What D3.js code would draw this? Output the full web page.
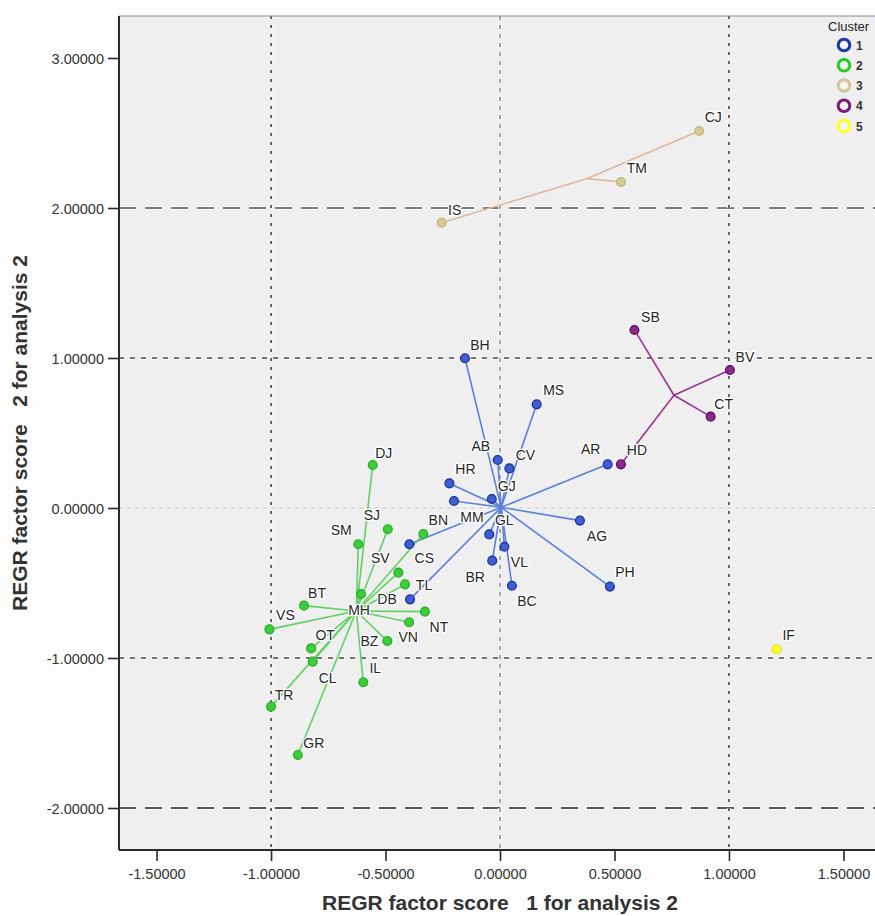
<!DOCTYPE html>
<html>
<head>
<meta charset="utf-8">
<script src="https://cdn.jsdelivr.net/npm/d3@7"></script>
<style>
  html, body { margin: 0; padding: 0; background: #fdfdfd; }
  svg { display: block; font-family: Arial, "Liberation Sans", sans-serif; }
</style>
</head>
<body>
<svg id="chart" width="875" height="916"></svg>
<script>
// Case labels, factor scores and cluster membership
const names = ["BH","MS","AB","CV","HR","GJ","MM","GL","AR","AG","VL","BR","BC","PH","CS","TL",
               "DJ","SJ","SM","BN","SV","DB","MH","BT","VS","NT","VN","BZ","OT","CL","IL","TR","GR",
               "IS","TM","CJ",
               "SB","BV","CT","HD",
               "IF"];
const score1 = [-0.153, 0.160,-0.010, 0.041,-0.221,-0.036,-0.201,-0.047, 0.470, 0.349, 0.019,-0.034, 0.052, 0.480,-0.396,-0.393,
                -0.556,-0.490,-0.619,-0.335,-0.444,-0.415,-0.607,-0.856,-1.007,-0.328,-0.397,-0.492,-0.825,-0.818,-0.597,-1.000,-0.883,
                -0.255, 0.528, 0.870,
                 0.587, 1.004, 0.920, 0.528,
                 1.208];
const score2 = [ 0.998, 0.691, 0.320, 0.264, 0.164, 0.060, 0.047,-0.176, 0.291,-0.084,-0.258,-0.351,-0.518,-0.524,-0.242,-0.609,
                 0.287,-0.142,-0.242,-0.173,-0.431,-0.509,-0.573,-0.651,-0.809,-0.691,-0.762,-0.887,-0.936,-1.024,-1.162,-1.324,-1.647,
                 1.902, 2.173, 2.513,
                 1.187, 0.920, 0.609, 0.291,
                -0.942];
const cluster = [1,1,1,1,1,1,1,1,1,1,1,1,1,1,1,1,
                 2,2,2,2,2,2,2,2,2,2,2,2,2,2,2,2,2,
                 3,3,3,
                 4,4,4,4,
                 5];

const clusterIds = [1, 2, 3, 4, 5];
const xTicks = [-1.5, -1.0, -0.5, 0.0, 0.5, 1.0, 1.5];
const yTicks = [-2, -1, 0, 1, 2, 3];
const xTitle = "REGR factor score   1 for analysis 2";
const yTitle = "REGR factor score   2 for analysis 2";

// Appearance per cluster
const pointFill   = {1: "#3d5fd4", 2: "#3ccc3c", 3: "#d4ca94", 4: "#8c2a8c", 5: "#ffff33"};
const pointStroke = {1: "#1c3098", 2: "#26b026", 3: "#c2b47a", 4: "#5e0e5e", 5: "#e6e600"};
const starColor   = {1: "#5b7fdc", 2: "#62d062", 3: "#e0b89c", 4: "#9a3496", 5: "#eeee55"};
const legendColor = {1: "#1a3aa8", 2: "#22cc22", 3: "#d2c694", 4: "#7c1a7c", 5: "#ffff22"};

// Label placement relative to each marker (px)
const labelNudge = {
  BH:[15,-13], MS:[17,-14], AB:[-17,-14], CV:[16,-13], HR:[16,-14], GJ:[15,-13], MM:[18,16],
  GL:[15,-14], AR:[-17,-15], AG:[17,15], VL:[15,15], BR:[-17,16], BC:[15,15], PH:[15,-15],
  CS:[15,14], TL:[14,-14],
  DJ:[11,-12], SJ:[-16,-14], SM:[-17,-14], BN:[15,-14], SV:[-18,-15], DB:[-18,15], MH:[-2,16],
  BT:[13,-13], VS:[16,-14], NT:[14,15], VN:[-1,15], BZ:[-18,0], OT:[14,-13], CL:[15,16],
  IL:[12,-14], TR:[13,-12], GR:[16,-12],
  IS:[13,-13], TM:[16,-14], CJ:[14,-14],
  SB:[16,-13], BV:[15,-13], CT:[13,-13], HD:[16,-14],
  IF:[12,-14]
};

const rows = names.map((n, i) => ({name: n, x: score1[i], y: score2[i], c: cluster[i]}));

const svg = d3.select("#chart");
const plot = {left: 119, right: 876, top: 16, bottom: 850};

const x = d3.scaleLinear().domain([-1.664, 1.642]).range([plot.left, plot.right]);
const y = d3.scaleLinear().domain([-2.28, 3.28]).range([plot.bottom, plot.top]);

// plot background
svg.append("rect")
  .attr("x", plot.left).attr("y", plot.top)
  .attr("width", plot.right - plot.left).attr("height", plot.bottom - plot.top)
  .attr("fill", "#efefef");

// reference lines (white halo beneath each dashed line)
const refLines = [
  {axis: "y", v: 0,  color: "#b4b4b4", dash: "4,4",  w: 1.2},
  {axis: "y", v: 1,  color: "#444",    dash: "5,6",  w: 1.3},
  {axis: "y", v: -1, color: "#444",    dash: "5,6",  w: 1.3},
  {axis: "y", v: 2,  color: "#7a7a7a", dash: "17,9", w: 2},
  {axis: "y", v: -2, color: "#555",    dash: "17,9", w: 2},
  {axis: "x", v: 0,  color: "#777",    dash: "4,5",  w: 1.3},
  {axis: "x", v: -1, color: "#333",    dash: "3,6",  w: 1.5},
  {axis: "x", v: 1,  color: "#333",    dash: "3,6",  w: 1.5}
];
const refG = svg.append("g");
refLines.forEach(r => {
  const coords = r.axis === "y"
    ? {x1: plot.left, x2: plot.right, y1: y(r.v), y2: y(r.v)}
    : {x1: x(r.v), x2: x(r.v), y1: plot.top, y2: plot.bottom};
  ["halo", "line"].forEach(k => {
    refG.append("line")
      .attr("x1", coords.x1).attr("x2", coords.x2)
      .attr("y1", coords.y1).attr("y2", coords.y2)
      .attr("stroke", k === "halo" ? "#ffffff" : r.color)
      .attr("stroke-width", k === "halo" ? r.w + 2.2 : r.w)
      .attr("stroke-dasharray", r.dash);
  });
});

// cluster centres and star lines
const centres = d3.rollup(rows, v => ({x: d3.mean(v, d => d.x), y: d3.mean(v, d => d.y)}), d => d.c);
const sizes = d3.rollup(rows, v => v.length, d => d.c);
svg.append("g").selectAll("line")
  .data(rows.filter(d => sizes.get(d.c) > 1))
  .join("line")
  .attr("x1", d => x(centres.get(d.c).x)).attr("y1", d => y(centres.get(d.c).y))
  .attr("x2", d => x(d.x)).attr("y2", d => y(d.y))
  .attr("stroke", d => starColor[d.c])
  .attr("stroke-width", 1.6);

// markers
svg.append("g").selectAll("circle")
  .data(rows)
  .join("circle")
  .attr("cx", d => x(d.x)).attr("cy", d => y(d.y))
  .attr("r", 4.4)
  .attr("fill", d => pointFill[d.c])
  .attr("stroke", d => pointStroke[d.c])
  .attr("stroke-width", 1.3);

// case labels
svg.append("g").selectAll("text")
  .data(rows)
  .join("text")
  .attr("x", d => x(d.x) + labelNudge[d.name][0])
  .attr("y", d => y(d.y) + labelNudge[d.name][1])
  .attr("text-anchor", "middle")
  .attr("dominant-baseline", "central")
  .attr("font-size", 14)
  .attr("fill", "#262626")
  .attr("stroke", "#ffffff")
  .attr("stroke-width", 2.6)
  .attr("stroke-linejoin", "round")
  .attr("paint-order", "stroke")
  .text(d => d.name);

// frame
svg.append("line").attr("x1", plot.left).attr("x2", plot.right).attr("y1", plot.top).attr("y2", plot.top)
  .attr("stroke", "#8a8a8a").attr("stroke-width", 1.2);

const fmt = d => d.toFixed(5);

const xAxis = svg.append("g")
  .attr("transform", `translate(0,${plot.bottom})`)
  .call(d3.axisBottom(x).tickValues(xTicks).tickFormat(fmt).tickSize(11).tickSizeOuter(0));
const yAxis = svg.append("g")
  .attr("transform", `translate(${plot.left},0)`)
  .call(d3.axisLeft(y).tickValues(yTicks).tickFormat(fmt).tickSize(11).tickSizeOuter(0));

[xAxis, yAxis].forEach(a => {
  a.select(".domain").attr("stroke", "#2a2a2a").attr("stroke-width", 2);
  a.selectAll(".tick line").attr("stroke", "#2a2a2a").attr("stroke-width", 1.6);
  a.selectAll(".tick text").attr("font-size", 14.5).attr("fill", "#333")
    .attr("font-family", "Arial, 'Liberation Sans', sans-serif");
});
xAxis.selectAll(".tick text").attr("dy", "1.0em");
yAxis.selectAll(".tick text").attr("x", -15).attr("dy", "0.35em");
yAxis.select(".domain").attr("d", `M0,${plot.top}V${plot.bottom}`);
xAxis.select(".domain").attr("d", `M${plot.left},0H${plot.right}`);

// axis titles
svg.append("text")
  .attr("x", 500).attr("y", 910)
  .attr("text-anchor", "middle")
  .attr("font-size", 21).attr("font-weight", "bold").attr("fill", "#333")
  .style("white-space", "pre")
  .text(xTitle);
svg.append("text")
  .attr("transform", `translate(27,${(plot.top + plot.bottom) / 2}) rotate(-90)`)
  .attr("text-anchor", "middle")
  .attr("font-size", 21).attr("font-weight", "bold").attr("fill", "#333")
  .style("white-space", "pre")
  .text(yTitle);

// legend
const lg = svg.append("g");
lg.append("text").attr("x", 828).attr("y", 31)
  .attr("font-size", 13).attr("fill", "#222").text("Cluster");
const ly = d3.scalePoint().domain(clusterIds).range([45, 126]);
const items = lg.selectAll("g.item").data(clusterIds).join("g").attr("class", "item");
items.append("circle")
  .attr("cx", 844).attr("cy", d => ly(d)).attr("r", 5.8)
  .attr("fill", "#f4f4f4")
  .attr("stroke", d => legendColor[d]).attr("stroke-width", 3);
items.append("text")
  .attr("x", 856).attr("y", d => ly(d) + 4.5)
  .attr("font-size", 12).attr("font-weight", "bold").attr("fill", "#333")
  .text(d => d);
</script>
</body>
</html>
